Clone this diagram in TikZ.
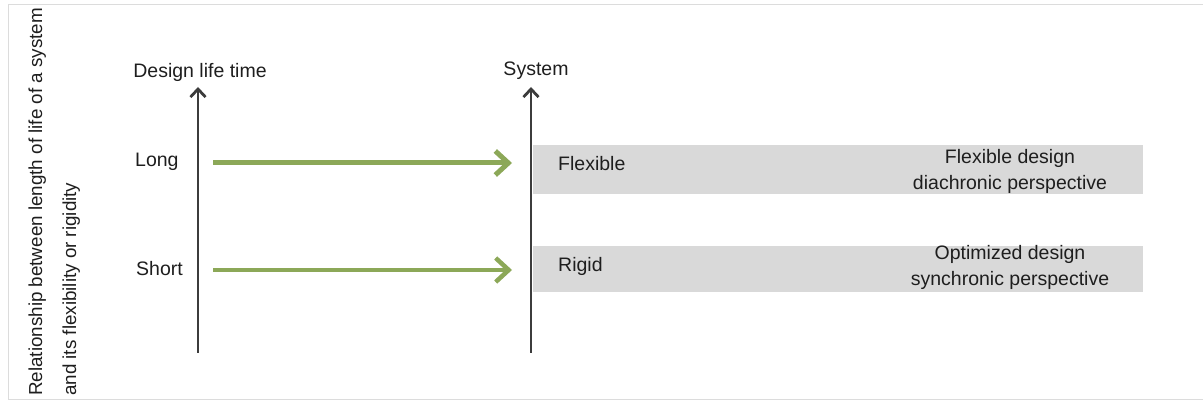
\documentclass[tikz,border=0pt]{standalone}
\usepackage{fontspec}
\setmainfont{Liberation Sans}
\usetikzlibrary{arrows.meta}
\definecolor{axisgray}{RGB}{60,60,60}
\definecolor{txt}{RGB}{30,30,30}
\definecolor{boxgray}{RGB}{217,217,217}
\definecolor{framegray}{RGB}{220,220,220}
\definecolor{arrgreen}{RGB}{140,168,88}
\begin{document}
\begin{tikzpicture}[x=1pt,y=-1pt,
  lbl/.style={font=\fontsize{19.5}{26}\selectfont, text=txt, inner sep=0pt},
  sidelbl/.style={font=\fontsize{18.8}{26}\selectfont, text=txt, inner sep=0pt},
  axisline/.style={draw=axisgray, line width=2.8pt, -{Straight Barb[length=8pt,width=15pt,line width=2.8pt]}},
  greenthick/.style={draw=arrgreen, line width=5pt, -{Straight Barb[length=13pt,width=24pt,line width=5pt]}},
  greenthin/.style={draw=arrgreen, line width=3.4pt, -{Straight Barb[length=13pt,width=24pt,line width=4.5pt]}},
  band/.style={fill=boxgray, draw=none}
]
\useasboundingbox (0,0) rectangle (1203,403);
% frame
\draw[framegray, line width=1pt] (1203,5) -- (8,5) -- (8,400) -- (1203,400);
% bands
\path[band] (533,145) rectangle (1143,194);
\path[band] (533,246) rectangle (1143,292);
% axes
\coordinate (a1s) at (198,353);
\coordinate (a1e) at (198,87);
\coordinate (a2s) at (531,353);
\coordinate (a2e) at (531,87);
\draw[axisline] (a1s) -- (a1e);
\draw[axisline] (a2s) -- (a2e);
% axis titles
\node[lbl, anchor=base] (dlt) at (200,78) {Design life time};
\node[lbl, anchor=base] (sys) at (536,76) {System};
% left labels
\node[lbl, anchor=base west] (long) at (135,167) {Long};
\node[lbl, anchor=base west] (short) at (136,276) {Short};
% green arrows
\coordinate (g1s) at (213,163);
\coordinate (g1e) at (512,163);
\coordinate (g2s) at (213,270);
\coordinate (g2e) at (512,270);
\draw[greenthick] (g1s) -- (g1e);
\draw[greenthin] (g2s) -- (g2e);
% band labels
\node[lbl, anchor=base west] (flex) at (558,171) {Flexible};
\node[lbl, anchor=base west] (rigid) at (558,272) {Rigid};
\node[lbl, anchor=base, align=center] (fd) at (1010,190) {Flexible design\\diachronic perspective};
\node[lbl, anchor=base, align=center] (od) at (1010,286) {Optimized design\\synchronic perspective};
% rotated side title
\node[sidelbl, rotate=90, anchor=base west] (rel1) at (42,396) {Relationship between length of life of a system};
\node[sidelbl, rotate=90, anchor=base west] (rel2) at (76,396) {and its flexibility or rigidity};
\end{tikzpicture}
\end{document}
